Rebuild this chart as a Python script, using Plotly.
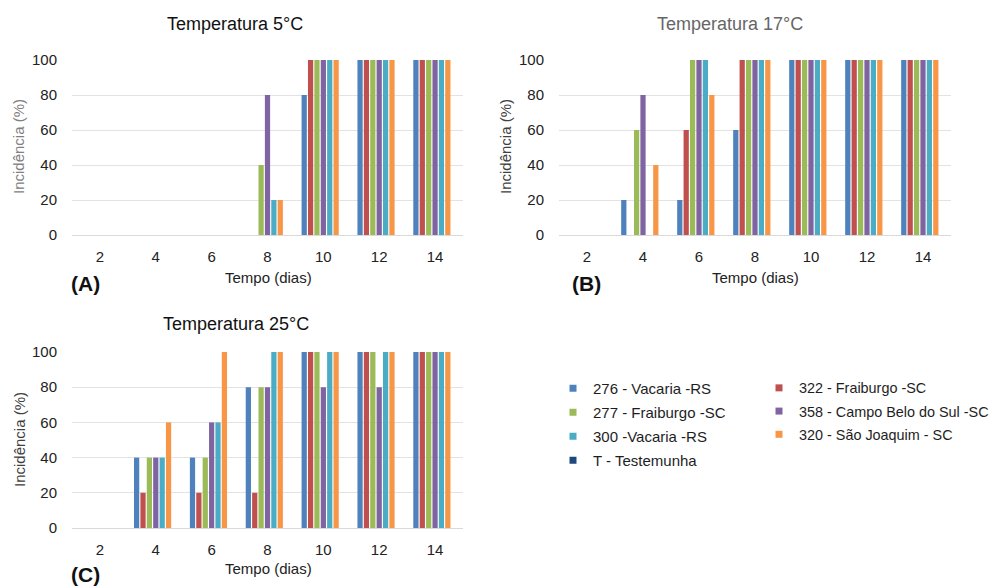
import plotly.graph_objects as go

days = ["2", "4", "6", "8", "10", "12", "14"]
series_names = ["276 - Vacaria -RS", "322 - Fraiburgo -SC", "277 - Fraiburgo -SC",
                "358 - Campo Belo do Sul -SC", "300 -Vacaria -RS", "320 - São Joaquim - SC",
                "T - Testemunha"]
colors = ["#4F81BD", "#C0504D", "#9BBB59", "#8064A2", "#4BACC6", "#F79646", "#1F497D"]

# Temperatura 5°C
t5_276 = [0, 0, 0, 0, 80, 100, 100]
t5_322 = [0, 0, 0, 0, 100, 100, 100]
t5_277 = [0, 0, 0, 40, 100, 100, 100]
t5_358 = [0, 0, 0, 80, 100, 100, 100]
t5_300 = [0, 0, 0, 20, 100, 100, 100]
t5_320 = [0, 0, 0, 20, 100, 100, 100]
t5_T = [0, 0, 0, 0, 0, 0, 0]

# Temperatura 17°C
t17_276 = [0, 20, 20, 60, 100, 100, 100]
t17_322 = [0, 0, 60, 100, 100, 100, 100]
t17_277 = [0, 60, 100, 100, 100, 100, 100]
t17_358 = [0, 80, 100, 100, 100, 100, 100]
t17_300 = [0, 0, 100, 100, 100, 100, 100]
t17_320 = [0, 40, 80, 100, 100, 100, 100]
t17_T = [0, 0, 0, 0, 0, 0, 0]

# Temperatura 25°C
t25_276 = [0, 40, 40, 80, 100, 100, 100]
t25_322 = [0, 20, 20, 20, 100, 100, 100]
t25_277 = [0, 40, 40, 80, 100, 100, 100]
t25_358 = [0, 40, 60, 80, 80, 80, 100]
t25_300 = [0, 40, 60, 100, 100, 100, 100]
t25_320 = [0, 60, 100, 100, 100, 100, 100]
t25_T = [0, 0, 0, 0, 0, 0, 0]

y_ticks = [0, 20, 40, 60, 80, 100]

panels = [
    ([t5_276, t5_322, t5_277, t5_358, t5_300, t5_320, t5_T], "x", "y"),
    ([t17_276, t17_322, t17_277, t17_358, t17_300, t17_320, t17_T], "x2", "y2"),
    ([t25_276, t25_322, t25_277, t25_358, t25_300, t25_320, t25_T], "x3", "y3"),
]

W, H = 997, 587
OFF = 8  # page body margin
FONT = "Liberation Sans, Arial, sans-serif"
TICK_COLOR = "#222222"

fig = go.Figure()
left_legend = [0, 2, 4, 6]
for p, (vals, xa, ya) in enumerate(panels):
    for i, v in enumerate(vals):
        fig.add_trace(go.Bar(
            x=days, y=v, name=series_names[i], xaxis=xa, yaxis=ya,
            marker=dict(color=colors[i], line=dict(width=0)),
            showlegend=False,
            legendgroup=series_names[i],
            hoverinfo="x+y+name",
        ))

# legend entries (small square swatches, as in the original)
for i, name in enumerate(series_names):
    fig.add_trace(go.Scatter(
        x=[None], y=[None], mode="markers", name=name, xaxis="x", yaxis="y",
        marker=dict(symbol="square", size=7, color=colors[i]),
        legend="legend" if i in left_legend else "legend2",
        legendgroup=name, showlegend=True, hoverinfo="skip",
    ))

def px_x(v):
    return (v - OFF) / W

def px_y(v):
    return 1 - (v - OFF) / H

axis_common = dict(showgrid=False, showline=False, zeroline=False, ticks="",
                   tickfont=dict(family=FONT, size=15, color=TICK_COLOR),
                   type="category", categoryorder="array", categoryarray=days,
                   ticklabelstandoff=11, fixedrange=True)
yaxis_common = dict(range=[0, 100], tickvals=y_ticks, showgrid=True, gridcolor="#E3E3E3",
                    gridwidth=1.2, zeroline=True, zerolinecolor="#D9D9D9", zerolinewidth=1.2,
                    showline=False, ticks="", ticklabelstandoff=14,
                    tickfont=dict(family=FONT, size=15, color=TICK_COLOR), fixedrange=True)

legend_common = dict(yanchor="top", xanchor="left",
                     itemwidth=30, tracegroupgap=1.5, bgcolor="rgba(0,0,0,0)",
                     traceorder="grouped")

fig.update_layout(
    width=W, height=H, margin=dict(l=0, r=0, t=0, b=0, autoexpand=False),
    paper_bgcolor="white", plot_bgcolor="white",
    barmode="group", bargap=0.2, bargroupgap=0.18,
    font=dict(family=FONT, size=15, color="#404040"),
    xaxis=dict(domain=[px_x(72), px_x(463)], anchor="y", **axis_common),
    yaxis=dict(domain=[px_y(235), px_y(60)], anchor="x", **yaxis_common),
    xaxis2=dict(domain=[px_x(559), px_x(951)], anchor="y2", **axis_common),
    yaxis2=dict(domain=[px_y(235), px_y(60)], anchor="x2", **yaxis_common),
    xaxis3=dict(domain=[px_x(72), px_x(463)], anchor="y3", **axis_common),
    yaxis3=dict(domain=[px_y(528), px_y(352)], anchor="x3", **yaxis_common),
    legend=dict(x=px_x(553), y=px_y(372),
                font=dict(family=FONT, size=15, color="#1e1e1e"), **legend_common),
    legend2=dict(x=px_x(759), y=px_y(372),
                 font=dict(family=FONT, size=14.4, color="#1e1e1e"), **legend_common),
)

def ann(text, x, y, size=15, color="#404040", bold=False, angle=0):
    fig.add_annotation(
        text=f"<b>{text}</b>" if bold else text,
        x=px_x(x), y=px_y(y), xref="paper", yref="paper",
        xanchor="center", yanchor="middle", showarrow=False, textangle=angle,
        font=dict(family=FONT, size=size, color=color))

ann("Temperatura 5°C", 235, 24, size=18, color="#111111")
ann("Temperatura 17°C", 730, 24, size=18, color="#666666")
ann("Temperatura 25°C", 236, 324, size=18, color="#111111")

ann("Incidência (%)", 19, 147, size=15, color="#808080", angle=-90)
ann("Incidência (%)", 506, 147, size=15, color="#404040", angle=-90)
ann("Incidência (%)", 19, 440, size=15, color="#404040", angle=-90)

ann("Tempo (dias)", 268, 277, size=15, color="#222222")
ann("Tempo (dias)", 755, 277, size=15, color="#222222")
ann("Tempo (dias)", 268, 568, size=15, color="#222222")

ann("(A)", 85, 284, size=21, color="#111111", bold=True)
ann("(B)", 586, 284, size=21, color="#111111", bold=True)
ann("(C)", 85, 574, size=21, color="#111111", bold=True)

fig.write_html("out.html")
